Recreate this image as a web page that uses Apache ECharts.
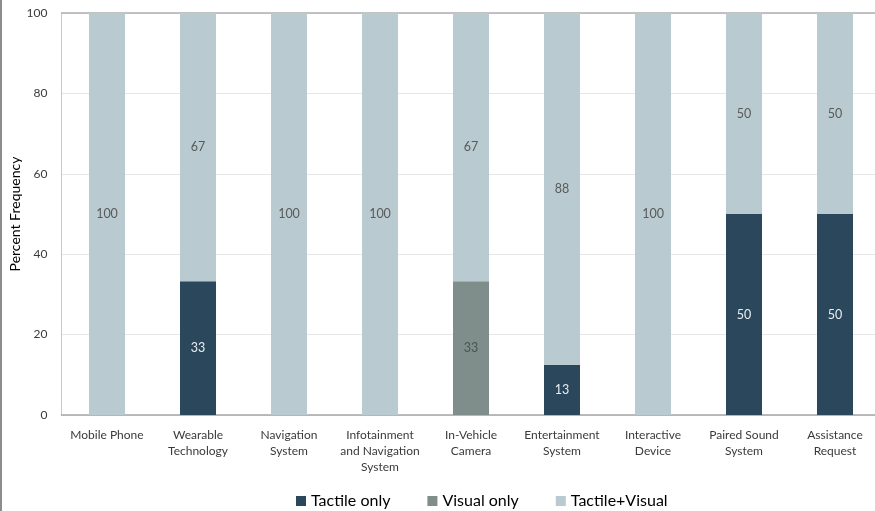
<!DOCTYPE html>
<html>
<head>
<meta charset="utf-8">
<script src="https://cdn.jsdelivr.net/npm/echarts@6/dist/echarts.min.js"></script>
<style>
html,body{margin:0;padding:0;background:#fff;}
#c{width:875px;height:511px;}
#frame{position:absolute;left:0;top:0;width:2px;height:511px;background:#8c8c8c;}
</style>
</head>
<body>
<div id="c"></div>
<div id="frame"></div>
<script>
const categories = ["Mobile Phone", "Wearable\nTechnology", "Navigation\nSystem", "Infotainment\nand Navigation\nSystem", "In-Vehicle\nCamera", "Entertainment\nSystem", "Interactive\nDevice", "Paired Sound\nSystem", "Assistance\nRequest"];
const tactileOnly = [0, 33.3, 0, 0, 0, 12.5, 0, 50, 50];
const visualOnly = [0, 0, 0, 0, 33.3, 0, 0, 0, 0];
const tactileVisual = [100, 66.7, 100, 100, 66.7, 87.5, 100, 50, 50];
const seriesNames = ["Tactile only", "Visual only", "Tactile+Visual"];
const yTicks = [0, 20, 40, 60, 80, 100];
const yAxisTitle = 'Percent Frequency';

const FONT = 'Lato, "Open Sans", sans-serif';
const chart = echarts.init(document.getElementById('c'), null, {renderer: 'canvas'});
function lbl(color) {
  return {
    show: true, position: 'inside', color: color, fontSize: 12.5, fontFamily: FONT,
    formatter: p => p.value > 0 ? String(Math.round(p.value)) : ''
  };
}
chart.setOption({
  animation: false,
  textStyle: {fontFamily: FONT},
  grid: {left: 61.5, top: 13, width: 819, height: 402, containLabel: false, outerBoundsMode: 'none'},
  legend: {
    data: seriesNames, left: 291, top: 488, itemWidth: 10, itemHeight: 10, itemGap: 37,
    icon: 'rect', textStyle: {fontSize: 16, color: '#000', fontFamily: FONT}
  },
  graphic: [{
    type: 'text', x: 15, y: 214, rotation: Math.PI / 2,
    style: {text: yAxisTitle, fontSize: 14, fill: '#000', fontFamily: FONT,
      textAlign: 'center', textVerticalAlign: 'middle'}
  }],
  xAxis: [{
    type: 'category', data: categories,
    axisLine: {lineStyle: {color: '#a6a6a6', width: 1.5}},
    axisTick: {show: false},
    axisLabel: {color: '#3a3a3a', fontSize: 12, lineHeight: 16, margin: 12, interval: 0, fontFamily: FONT}
  }, {
    type: 'category', data: categories, position: 'top',
    axisLine: {show: true, lineStyle: {color: '#b0b0b0', width: 1.5}},
    axisTick: {show: false}, axisLabel: {show: false}
  }],
  yAxis: {
    type: 'value', min: 0, max: 100, interval: 20,
    axisLine: {show: true, lineStyle: {color: '#c8c8c8'}},
    axisTick: {show: false},
    axisLabel: {color: '#3a3a3a', fontSize: 12, margin: 14, fontFamily: FONT,
      formatter: v => yTicks.includes(v) ? String(v) : ''},
    splitLine: {lineStyle: {color: '#e6e6e6'}}
  },
  series: [
    {name: seriesNames[0], type: 'bar', stack: 's', data: tactileOnly, barWidth: 36,
     itemStyle: {color: '#2b475c'}, label: lbl('#e8eef2')},
    {name: seriesNames[1], type: 'bar', stack: 's', data: visualOnly, barWidth: 36,
     itemStyle: {color: '#7f8d8b'}, label: lbl('#4a5452')},
    {name: seriesNames[2], type: 'bar', stack: 's', data: tactileVisual, barWidth: 36,
     itemStyle: {color: '#b9cbd1'}, label: lbl('#595959')}
  ]
});
</script>
</body>
</html>
